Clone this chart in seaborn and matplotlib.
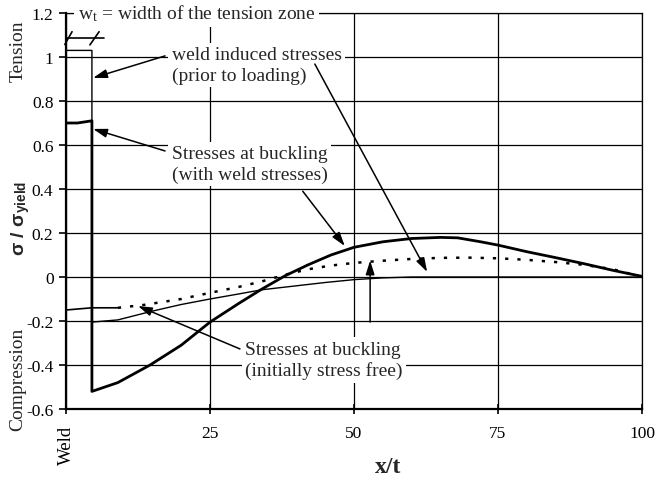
import matplotlib
matplotlib.use("Agg")
import matplotlib.pyplot as plt
import seaborn as sns
import pandas as pd

# Stress distributions across the plate width (x/t), normalised by yield stress
x_weld = [0, 4.5, 4.5, 9, 15, 20, 25, 30, 34, 40, 45, 50, 55, 60, 100]
s_weld = [1.03, 1.03, -0.205, -0.195, -0.155, -0.125, -0.10, -0.077, -0.058,
          -0.04, -0.025, -0.012, -0.004, 0.0, 0.0]

x_buck_weld = [0, 2, 4.5, 4.5, 9, 14.6, 20, 25, 30, 34, 38, 42, 46, 50, 55,
               60, 65, 68, 72, 75, 80, 85, 90, 95, 100]
s_buck_weld = [0.70, 0.70, 0.71, -0.52, -0.48, -0.40, -0.31, -0.205, -0.12,
               -0.055, 0.005, 0.055, 0.10, 0.135, 0.16, 0.175, 0.18, 0.178,
               0.16, 0.145, 0.115, 0.088, 0.06, 0.03, 0.003]

x_buck_free = [0, 4.5, 9, 13.5, 20, 25, 30, 34, 38, 42, 46, 50, 55, 60, 65,
               70, 75, 80, 85, 90, 95, 100]
s_buck_free = [-0.15, -0.14, -0.14, -0.127, -0.10, -0.072, -0.045, -0.02,
               0.01, 0.035, 0.052, 0.064, 0.074, 0.082, 0.087, 0.088, 0.085,
               0.078, 0.068, 0.055, 0.035, 0.0]

y_ticks = [-0.6, -0.4, -0.2, 0, 0.2, 0.4, 0.6, 0.8, 1.0, 1.2]
y_tick_labels = ["-0.6", "-0.4", "-0.2", "0", "0.2", "0.4", "0.6", "0.8", "1", "1.2"]
x_ticks = [0, 25, 50, 75, 100]
x_tick_labels = ["Weld", "25", "50", "75", "100"]

sns.set_theme(style="white")
plt.rcParams["font.family"] = ["Liberation Serif", "DejaVu Serif"]
plt.rcParams["mathtext.fontset"] = "custom"
plt.rcParams["mathtext.rm"] = "Liberation Serif"
plt.rcParams["mathtext.it"] = "Liberation Serif:italic"
plt.rcParams["mathtext.bf"] = "Liberation Sans:bold"

fig = plt.figure(figsize=(6.55, 4.81), dpi=100)
ax = fig.add_axes([66 / 655, 1 - 410 / 481, 576 / 655, 396 / 481])

df_weld = pd.DataFrame({"x": x_weld, "s": s_weld})
df_bw = pd.DataFrame({"x": x_buck_weld, "s": s_buck_weld})
df_bf = pd.DataFrame({"x": x_buck_free, "s": s_buck_free})

sns.lineplot(data=df_weld, x="x", y="s", ax=ax, color="black", lw=1.0,
             sort=False, estimator=None, zorder=3)
sns.lineplot(data=df_bw, x="x", y="s", ax=ax, color="black", lw=2.0,
             sort=False, estimator=None, zorder=4)
sns.lineplot(data=df_bf.iloc[2:], x="x", y="s", ax=ax, color="black", lw=1.8,
             linestyle=(0, (1.3, 3.6)), sort=False, estimator=None, zorder=3)
sns.lineplot(data=df_bf.iloc[:3], x="x", y="s", ax=ax, color="black", lw=1.2,
             sort=False, estimator=None, zorder=3)

ax.set_xlim(0, 100)
ax.set_ylim(-0.6, 1.2)
ax.set_xticks(x_ticks)
ax.set_xticklabels(x_tick_labels, fontsize=12.5)
ax.set_yticks(y_ticks)
ax.set_yticklabels(y_tick_labels, fontsize=12.5)
wl = ax.get_xticklabels()[0]
wl.set_rotation(90)
wl.set_va("top")
wl.set_fontsize(13.5)
ax.tick_params(axis="x", direction="inout", length=7, width=1.2, pad=8,
               colors="black", bottom=True)
ax.tick_params(axis="y", direction="out", length=5, width=1.2, pad=4,
               colors="black", left=True)
ax.set_xlabel("")
ax.set_ylabel("")

ax.grid(True, color="black", lw=0.9)
ax.set_axisbelow(True)
for side in ["left", "bottom"]:
    ax.spines[side].set_linewidth(1.6)
    ax.spines[side].set_color("black")
for side in ["top", "right"]:
    ax.spines[side].set_linewidth(0.9)
    ax.spines[side].set_color("black")

box = dict(facecolor="white", edgecolor="none", pad=2.5)
fs = 14
ls = 1.25

# tension-zone dimension marker
ax.plot([0, 6.6], [1.086, 1.086], color="black", lw=1.2, zorder=5)
ax.plot([-0.2, 1.05], [1.057, 1.115], color="black", lw=1.2, zorder=5, clip_on=False)
ax.plot([4.15, 5.75], [1.055, 1.115], color="black", lw=1.2, zorder=5)
ax.text(22.7, 1.2, "w$_\\mathregular{t}$ = width of the tension zone",
        ha="center", va="center", fontsize=fs, bbox=box, zorder=6)

ax.text(18.4, 0.964, "weld induced stresses\n(prior to loading)", ha="left",
        va="center", fontsize=fs, linespacing=ls, bbox=box, zorder=6)
ax.text(18.4, 0.514, "Stresses at buckling\n(with weld stresses)", ha="left",
        va="center", fontsize=fs, linespacing=ls, bbox=box, zorder=6)
ax.text(31.1, -0.377, "Stresses at buckling\n(initially stress free)", ha="left",
        va="center", fontsize=fs, linespacing=ls, bbox=box, zorder=6)

arrow = dict(arrowstyle="-|>,head_length=0.7,head_width=0.22", color="black",
             lw=1.1, shrinkA=0, shrinkB=0)
for head, tail in [((4.7, 0.905), (17.2, 1.005)),
                   ((62.7, 0.023), (43.2, 0.968)),
                   ((4.7, 0.673), (17.2, 0.573)),
                   ((48.4, 0.141), (41.1, 0.39)),
                   ((12.5, -0.132), (30.2, -0.327)),
                   ((52.8, 0.075), (52.8, -0.205))]:
    ax.annotate("", xy=head, xytext=tail, arrowprops=arrow, zorder=7)

fig.text(18 / 655, 1 - 51 / 481, "Tension", rotation=90, ha="center",
         va="center", fontsize=14)
fig.text(18 / 655, 1 - 379 / 481, "Compression", rotation=90, ha="center",
         va="center", fontsize=14)
fig.text(21 / 655, 1 - 218 / 481, "σ / σ$_{\\mathbf{yield}}$", rotation=90,
         ha="center", va="center", fontsize=14, fontweight="bold",
         family="Liberation Sans")
fig.text(388 / 655, 1 - 468 / 481, "x/t", ha="center", va="center",
         fontsize=17, fontweight="bold")

fig.savefig("out.png", dpi=100)
